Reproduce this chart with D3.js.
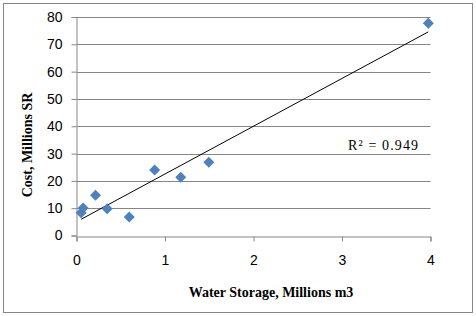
<!DOCTYPE html>
<html>
<head>
<meta charset="utf-8">
<script src="https://cdn.jsdelivr.net/npm/d3@7"></script>
<style>
  html, body { margin: 0; padding: 0; background: #fff; }
  svg { display: block; }
</style>
</head>
<body>
<div id="chart"></div>
<script>
/* Water storage vs cost scatter with linear trendline */
var storage = [0.052, 0.075, 0.215, 0.347, 0.596, 0.883, 1.178, 1.495, 3.975];
var cost = [8.3, 10.1, 14.7, 9.8, 6.8, 24.0, 21.3, 26.8, 77.7];
var xTickValues = [0, 1, 2, 3, 4];
var yTickValues = [0, 10, 20, 30, 40, 50, 60, 70, 80];
var rSquaredLabel = 'R\u00b2 = 0.949';

(function () {
  'use strict';
  var W = 476, H = 316;
  var margin = { left: 76.5, right: 45.5, top: 17, bottom: 80.5 };
  var grid = '#868686', marker = '#4F81BD';
  var serif = '"Liberation Serif", "Times New Roman", serif';
  var sans = '"Liberation Sans", Arial, sans-serif';

  var svg = d3.select('#chart').append('svg').attr('width', W).attr('height', H);

  /* outer frame */
  svg.append('rect')
    .attr('x', 3.5).attr('y', 3.5).attr('width', 469).attr('height', 309)
    .attr('fill', '#fff').attr('stroke', grid).attr('stroke-width', 1);

  var x = d3.scaleLinear().domain([0, 4]).range([margin.left, W - margin.right]);
  var y = d3.scaleLinear().domain([0, 80]).range([H - margin.bottom, margin.top]);

  /* horizontal gridlines */
  svg.append('g').selectAll('line').data(yTickValues.slice(1)).enter().append('line')
    .attr('x1', x(0)).attr('x2', x(4))
    .attr('y1', function (d) { return Math.round(y(d)) + 0.5; })
    .attr('y2', function (d) { return Math.round(y(d)) + 0.5; })
    .attr('stroke', grid).attr('stroke-width', 1);

  /* axes */
  var yAxis = svg.append('g').attr('transform', 'translate(' + x(0) + ',0)')
    .call(d3.axisLeft(y).tickValues(yTickValues).tickSize(5).tickPadding(9));
  var xAxis = svg.append('g').attr('transform', 'translate(0,' + (Math.round(y(0)) + 0.5) + ')')
    .call(d3.axisBottom(x).tickValues(xTickValues).tickSize(5).tickPadding(14).tickFormat(d3.format('d')));
  [xAxis, yAxis].forEach(function (a) {
    a.select('.domain').attr('stroke', grid);
    a.selectAll('.tick line').attr('stroke', grid);
    a.selectAll('.tick text').attr('fill', '#000')
      .style('font-family', sans).style('font-size', '14px');
  });

  /* least-squares trendline from the data */
  var mx = d3.mean(storage), my = d3.mean(cost);
  var sxy = d3.sum(storage, function (v, i) { return (v - mx) * (cost[i] - my); });
  var sxx = d3.sum(storage, function (v) { return (v - mx) * (v - mx); });
  var slope = sxy / sxx, icpt = my - slope * mx;
  var xr = d3.extent(storage);
  svg.append('line')
    .attr('x1', x(xr[0])).attr('y1', y(icpt + slope * xr[0]))
    .attr('x2', x(xr[1])).attr('y2', y(icpt + slope * xr[1]))
    .attr('stroke', '#000').attr('stroke-width', 1);

  /* points */
  svg.append('g').selectAll('path').data(storage).enter().append('path')
    .attr('d', 'M0,-5.5L5.5,0L0,5.5L-5.5,0Z')
    .attr('transform', function (d, i) { return 'translate(' + x(d) + ',' + y(cost[i]) + ')'; })
    .attr('fill', marker);

  /* R² label */
  svg.append('text')
    .attr('x', 348).attr('y', 150)
    .attr('textLength', 70).attr('lengthAdjust', 'spacing')
    .style('font-family', serif).style('font-size', '14px')
    .text(rSquaredLabel);

  /* axis titles */
  svg.append('text')
    .attr('x', 271).attr('y', 297)
    .attr('text-anchor', 'middle')
    .style('font-family', serif).style('font-size', '14px').style('font-weight', 'bold')
    .text('Water Storage, Millions m3');
  svg.append('text')
    .attr('transform', 'translate(32,145) rotate(-90)')
    .attr('text-anchor', 'middle')
    .style('font-family', serif).style('font-size', '14px').style('font-weight', 'bold')
    .text('Cost, Millions SR');
})();
</script>
</body>
</html>
